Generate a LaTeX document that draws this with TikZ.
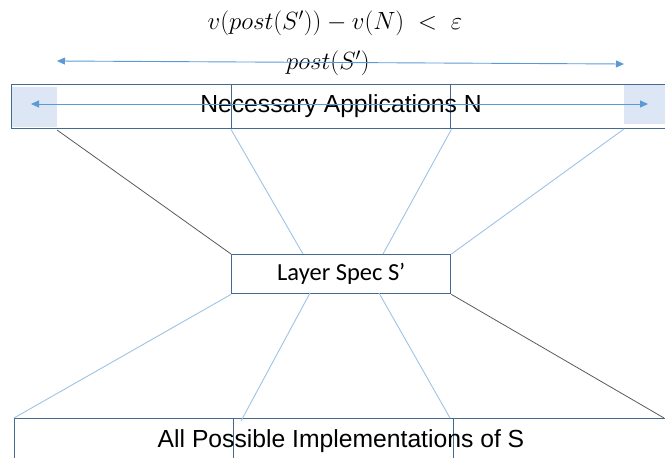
\documentclass[tikz,border=0pt]{standalone}
\usepackage[no-math]{fontspec}
\setmainfont{Liberation Sans}
\newfontfamily\calfont{Carlito}
\usetikzlibrary{arrows.meta}
\definecolor{boxblue}{HTML}{46698F}
\definecolor{lineblue}{HTML}{9DC3E6}
\definecolor{arrowblue}{HTML}{5B9BD5}
\definecolor{shadeblue}{HTML}{DCE6F4}
\definecolor{darkline}{HTML}{5A5A5A}
\begin{document}
\begin{tikzpicture}[x=1pt,y=-1pt,
  frame/.style={draw=boxblue, line width=1.4pt, inner sep=0pt},
  shadebox/.style={fill=shadeblue, inner sep=0pt, anchor=north west},
  lightline/.style={draw=lineblue, line width=0.9pt},
  darkconn/.style={draw=darkline, line width=0.8pt},
  dblarrow/.style={draw=arrowblue, line width=0.9pt, {Triangle[length=8pt,width=7pt]}-{Triangle[length=8pt,width=7pt]}},
  arialtext/.style={font=\fontsize{24.7}{28}\selectfont, inner sep=0pt},
  mathtext/.style={font=\fontsize{26}{31}\selectfont, inner sep=0pt}]
\useasboundingbox (0,0) rectangle (665,458);
\begin{scope}
\clip (0,0) rectangle (665,458);
% shaded ends of the top bar
\node[shadebox, minimum width=46pt, minimum height=40pt] (lsh) at (11,87) {};
\node[shadebox, minimum width=46pt, minimum height=40pt] (rsh) at (624,84) {};
% top bar
\node[frame, anchor=north west, minimum width=680pt, minimum height=44pt] (topbar) at (11,84) {};
\node[frame, anchor=north west, minimum width=219pt, minimum height=44pt] (topmid) at (231,84) {};
\node[arialtext] (ntext) at (341,106) {Necessary Applications N};
% layer spec box
\node[frame, anchor=north west, minimum width=219pt, minimum height=39pt,
      font=\calfont\fontsize{24.5}{28}\selectfont] (layer) at (231,254) {Layer Spec S’};
% bottom bar
\node[frame, anchor=north west, minimum width=680pt, minimum height=80pt] (botbar) at (14,418) {};
\node[frame, anchor=north west, minimum width=220pt, minimum height=80pt] (botmid) at (233,418) {};
\node[arialtext] (stext) at (341,441) {All Possible Implementations of S};
% math labels
\node[mathtext] (formula) at (335,23) {$v(post(S'))-v(N)\;<\;\varepsilon$};
\node[mathtext] (postlbl) at (328,63) {$post(S')$};
% arrow ends
\coordinate (ta) at (57,61);
\coordinate (tb) at (624,64);
\coordinate (ma) at (31,104);
\coordinate (mb) at (648,104);
\draw[dblarrow] (ta) -- (tb);
\draw[dblarrow] (ma) -- (mb);
% connector ends
\coordinate (u1) at (57,130);
\coordinate (u4) at (624,129);
\coordinate (l2) at (303,254);
\coordinate (l3) at (383,254);
\coordinate (d2) at (310,293);
\coordinate (d3) at (379,293);
\coordinate (b1) at (14,418);
\coordinate (b2) at (241,421);
\coordinate (b3) at (450,418);
\coordinate (b4) at (664,418);
\draw[darkconn] (u1) -- (layer.north west);
\draw[lightline] (topmid.south west) -- (l2);
\draw[lightline] (topmid.south east) -- (l3);
\draw[lightline] (u4) -- (layer.north east);
\draw[lightline] (layer.south west) -- (b1);
\draw[lightline] (d2) -- (b2);
\draw[lightline] (d3) -- (b3);
\draw[darkconn] (layer.south east) -- (b4);
\end{scope}
\end{tikzpicture}
\end{document}
